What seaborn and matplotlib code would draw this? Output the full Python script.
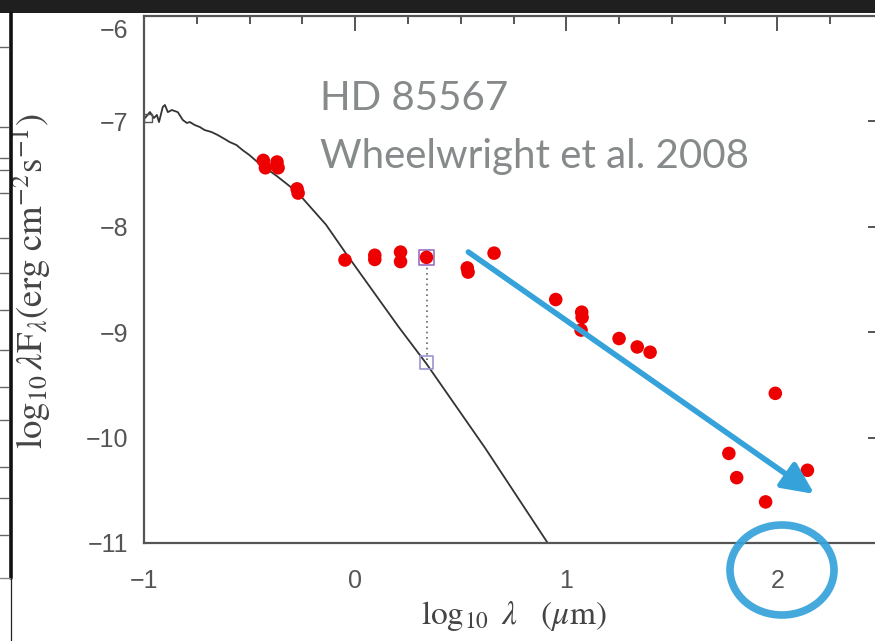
import matplotlib
matplotlib.use("Agg")
import matplotlib.pyplot as plt
import seaborn as sns
import pandas as pd
from matplotlib.patches import Ellipse, Rectangle
from matplotlib.lines import Line2D
from matplotlib.ticker import MultipleLocator
from matplotlib.transforms import ScaledTranslation

# ---- data ----
obs_logwl = [-0.435, -0.425, -0.37, -0.365, -0.275, -0.27,
             -0.048, 0.093, 0.093, 0.215, 0.215, 0.338,
             0.531, 0.535, 0.658, 0.95, 1.073, 1.075, 1.07,
             1.25, 1.336, 1.397, 1.99, 1.77, 1.807, 1.944, 2.142]
obs_logflux = [-7.37, -7.44, -7.385, -7.44, -7.64, -7.68,
               -8.315, -8.27, -8.31, -8.24, -8.33, -8.29,
               -8.39, -8.43, -8.25, -8.69, -8.81, -8.86, -8.98,
               -9.06, -9.14, -9.19, -9.58, -10.15, -10.38, -10.61, -10.31]

model_logwl = [-0.995, -0.972, -0.953, -0.939, -0.929, -0.911, -0.901, -0.887,
               -0.868, -0.840, -0.816, -0.797, -0.783, -0.760, -0.736, -0.713,
               -0.680, -0.651, -0.618, -0.595, -0.562, -0.534, -0.501, -0.463,
               -0.37, -0.275, -0.138, -0.048, 0.206, 0.338, 0.616, 0.912]
model_logflux = [-6.968, -6.911, -6.968, -6.939, -7.006, -6.863, -6.844, -6.912,
                 -6.892, -6.912, -6.987, -7.015, -7.006, -7.034, -7.053, -7.082,
                 -7.101, -7.129, -7.167, -7.195, -7.224, -7.271, -7.319, -7.385,
                 -7.52, -7.67, -7.98, -8.24, -8.95, -9.30, -10.10, -11.0]

excess_logwl = [0.338]
excess_obs = [-8.29]
excess_model = [-9.29]
start_logwl = [-0.98]
start_logflux = [-6.97]

x_ticks = [-1, 0, 1, 2]
y_ticks = [-11, -10, -9, -8, -7, -6]
title_lines = ["HD 85567", "Wheelwright et al. 2008"]

arrow_start = (0.536, -8.239)
arrow_end = (2.175, -10.535)


def fmt(v):
    return ("\u2212%d" % abs(v)) if v < 0 else str(v)


# ---- figure ----
sns.set_theme(style="white")
plt.rcParams["font.family"] = ["Liberation Sans", "DejaVu Sans"]
plt.rcParams["mathtext.fontset"] = "stix"

W, H = 875, 641
fig = plt.figure(figsize=(W / 100, H / 100), dpi=100)
fig.patch.set_facecolor("white")

ax_l, ax_r, ax_t, ax_b = 144, 883, 16, 543
ax = fig.add_axes([ax_l / W, 1 - ax_b / H, (ax_r - ax_l) / W, (ax_b - ax_t) / H])
ax.set_facecolor("white")

obs = pd.DataFrame({"x": obs_logwl, "y": obs_logflux})
mod = pd.DataFrame({"x": model_logwl, "y": model_logflux})

sns.lineplot(data=mod, x="x", y="y", ax=ax, color="#333333", lw=1.3,
             estimator=None, sort=False, zorder=2)
sns.scatterplot(data=obs, x="x", y="y", ax=ax, color="#ee0000", s=95,
                edgecolor="none", zorder=4)
ax.plot([excess_logwl[0], excess_logwl[0]], [excess_obs[0], excess_model[0]],
        ls=(0, (1, 2.2)), color="#666666", lw=1.2, zorder=1)
ax.scatter(excess_logwl, excess_model, marker="s", s=90, facecolor="none",
           edgecolor="#9a95cf", lw=1.2, zorder=3)
ax.scatter(excess_logwl, excess_obs, marker="s", s=110, facecolor="none",
           edgecolor="#9a70c0", lw=1.2, zorder=3)
ax.scatter(start_logwl, start_logflux, marker="s", s=35, facecolor="none",
           edgecolor="#555555", lw=1.0, zorder=3)

ax.set_xlim(-1, 2.5)
ax.set_ylim(-11, -6)
ax.set_xticks(x_ticks)
ax.set_yticks(y_ticks)
ax.set_xticklabels([fmt(v) for v in x_ticks])
# the top y label is drawn separately, just under the frame as in the reference
ax.set_yticklabels([fmt(v) if v != y_ticks[-1] else "" for v in y_ticks])
ax.xaxis.set_minor_locator(MultipleLocator(0.25))
ax.yaxis.set_minor_locator(MultipleLocator(0.25))
for s in ax.spines.values():
    s.set_visible(True)
    s.set_color("#555555")
    s.set_linewidth(1.6)
ax.tick_params(which="both", direction="in", top=True, right=True, color="#555555",
               width=1.4)
ax.tick_params(which="major", length=11)
ax.tick_params(which="minor", length=5.5)
ax.tick_params(axis="x", which="major", pad=19, labelsize=18, labelcolor="#555555")
ax.tick_params(axis="y", which="major", pad=11, labelsize=18, labelcolor="#555555")

top_lbl_tr = ax.get_yaxis_transform() + ScaledTranslation(-11 / 72, -2 / 72, fig.dpi_scale_trans)
ax.text(0, y_ticks[-1], fmt(y_ticks[-1]), transform=top_lbl_tr, ha="right", va="top",
        fontsize=18, color="#555555")

ax.set_xlabel(r"$\log_{10}\ \lambda\ \ \ (\mu\mathrm{m})$", fontsize=24, color="#444444")
ax.set_ylabel(r"$\log_{10}\lambda\mathrm{F}_{\lambda}(\mathrm{erg\ cm^{-2}s^{-1}})$",
              fontsize=26.5, color="#444444")
ax.xaxis.set_label_coords(0.50, -0.106)
ax.yaxis.set_label_coords((53 - ax_l) / (ax_r - ax_l), 0.497)

# annotation: title text
fig.text(320 / W, 1 - 110 / H, title_lines[0], fontsize=29, color="#868a8a",
         family=["Lato", "DejaVu Sans"], ha="left", va="baseline")
fig.text(320 / W, 1 - 168 / H, title_lines[1], fontsize=29, color="#868a8a",
         family=["Lato", "DejaVu Sans"], ha="left", va="baseline")

# blue arrow
ax.annotate("", xy=arrow_end, xytext=arrow_start,
            arrowprops=dict(arrowstyle="-|>,head_length=1.6,head_width=0.75",
                            color="#35a2da", lw=4, shrinkA=0, shrinkB=0),
            zorder=6)

# blue ellipse around "2"
ell = Ellipse((782 / W, 1 - 570 / H), 104 / W, 90 / H, transform=fig.transFigure,
              facecolor="none", edgecolor="#35a2da", lw=5.5, alpha=0.92, zorder=10)
fig.patches.append(ell)

# slide decorations: top dark band and neighbouring element on the left
fig.patches.append(Rectangle((0, 1 - 13 / H), 1, 13 / H, transform=fig.transFigure,
                             facecolor="#1f1f1f", edgecolor="none", zorder=0))
fig.lines.append(Line2D([10.5 / W, 10.5 / W], [1 - 13 / H, 1 - 578 / H],
                        transform=fig.transFigure, color="#111111", lw=2.6))
fig.lines.append(Line2D([11 / W, 11 / W], [1 - 578 / H, 0],
                        transform=fig.transFigure, color="#222222", lw=0.9))
fig.lines.append(Line2D([0, 10 / W], [1 - 578 / H, 1 - 578 / H],
                        transform=fig.transFigure, color="#888888", lw=1.0))
for yy in [47, 127, 158, 170, 193, 238, 273, 310, 350, 387, 420, 467, 498, 535]:
    fig.lines.append(Line2D([0, 8 / W], [1 - yy / H, 1 - yy / H],
                            transform=fig.transFigure, color="#666666", lw=1.0))

fig.savefig("out.png", dpi=100)
